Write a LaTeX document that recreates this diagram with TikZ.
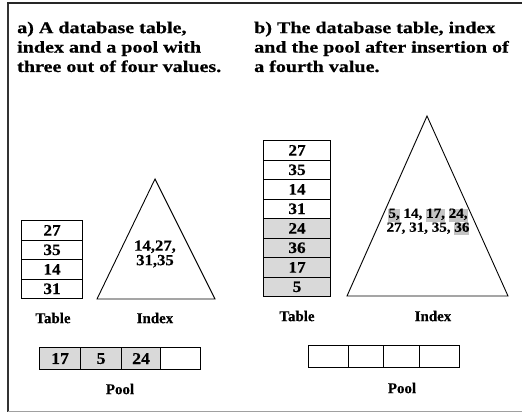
\documentclass[tikz,border=0pt]{standalone}
\usepackage{fontspec}
\setmainfont{Liberation Serif}
\newfontfamily\titlefont{Liberation Serif}[FakeStretch=1.22,FakeBold=0.6]
\newfontfamily\cellfont{Liberation Serif}[FakeStretch=1.08,FakeBold=0.4]
\newfontfamily\lblfont{Liberation Serif}[FakeBold=0.4]
\definecolor{cellgray}{HTML}{D9D9D9}
\definecolor{hlgray}{HTML}{C4C4C4}
\definecolor{framegray}{HTML}{A0A0A0}
\newcommand\hlx[1]{{\setlength{\fboxsep}{0pt}\colorbox{hlgray}{\strut #1}}}
\tikzset{
  titletext/.style={anchor=north west, inner sep=0pt, align=left,
    font=\titlefont\bfseries\fontsize{16.5}{19.5}\selectfont},
  tcell/.style={draw, line width=1.1pt, inner sep=0pt, anchor=north west,
    font=\cellfont\bfseries\fontsize{16}{16}\selectfont},
  pcell/.style={draw, line width=1.1pt, inner sep=0pt, anchor=north west,
    minimum height=22bp, font=\cellfont\bfseries\fontsize{16.5}{16.5}\selectfont},
  filled/.style={fill=cellgray},
  lbl/.style={inner sep=0pt, font=\lblfont\bfseries\fontsize{15}{15}\selectfont},
  tri/.style={draw, line width=0.9pt, line join=miter},
}
\begin{document}
\begin{tikzpicture}[x=1bp,y=-1bp]
\useasboundingbox (0,0) rectangle (522,413);
% frame
\draw[line width=2pt,black!80] (8,3) -- (8,412);
\draw[line width=1.3pt,black!85] (7,3) -- (522,3);
\draw[line width=1.2pt,framegray] (8,411.5) -- (522,411.5);
% titles
\node[titletext] (ta) at (17,21.5) {a) A database table,\\index and a pool with\\three out of four values.};
\node[titletext] (tb) at (254,21.5) {b) The database table, index\\and the pool after insertion of\\a fourth value.};
% ---- part a: table
\foreach \v [count=\i from 0] in {27,35,14,31} {
  \node[tcell, minimum width=61bp, minimum height=19.5bp] (a\v) at (21,220+19.5*\i) {\v};
}
% part a: index
\coordinate (aTop) at (155,179);
\coordinate (aL) at (97,299);
\coordinate (aR) at (215,299);
\draw[tri] (aTop) -- (aL) -- (aR) -- cycle;
\node[align=center, inner sep=0pt, font=\cellfont\bfseries\fontsize{15.5}{14.5}\selectfont] (aidx) at (155,254) {14,27,\\31,35};
\node[lbl] (atable) at (53,318) {Table};
\node[lbl] (aindex) at (155,318) {Index};
% part a: pool
\node[pcell, filled, minimum width=41bp] (ap1) at (39,347) {17};
\node[pcell, filled, minimum width=41bp] (ap2) at (80,347) {5};
\node[pcell, filled, minimum width=39bp] (ap3) at (121,347) {24};
\node[pcell, minimum width=40bp] (ap4) at (160,347) {};
\node[lbl] (apool) at (120,389) {Pool};
% ---- part b: table
\foreach \v [count=\i from 0] in {27,35,14,31} {
  \node[tcell, minimum width=67bp, minimum height=19.5bp] (b\v) at (263,140+19.5*\i) {\v};
}
\foreach \v [count=\i from 4] in {24,36,17,5} {
  \node[tcell, filled, minimum width=67bp, minimum height=19.5bp] (b\v) at (263,140+19.5*\i) {\v};
}
% part b: index
\coordinate (bTop) at (427,116);
\coordinate (bL) at (347,296);
\coordinate (bR) at (508,296);
\draw[tri] (bTop) -- (bL) -- (bR) -- cycle;
\node[align=center, inner sep=0pt, font=\cellfont\bfseries\fontsize{14}{12.5}\selectfont] (bidx) at (428,222)
  {\hlx{5,} 14, \hlx{17,} \hlx{24,}\\27, 31, 35, \hlx{36}};
\node[lbl] (btable) at (297,316) {Table};
\node[lbl] (bindex) at (433,316) {Index};
% part b: pool
\node[pcell, minimum width=40bp] (bp1) at (308,345) {};
\node[pcell, minimum width=35bp] (bp2) at (348,345) {};
\node[pcell, minimum width=36bp] (bp3) at (383,345) {};
\node[pcell, minimum width=40bp] (bp4) at (419,345) {};
\node[lbl] (bpool) at (402,388) {Pool};
\end{tikzpicture}
\end{document}
